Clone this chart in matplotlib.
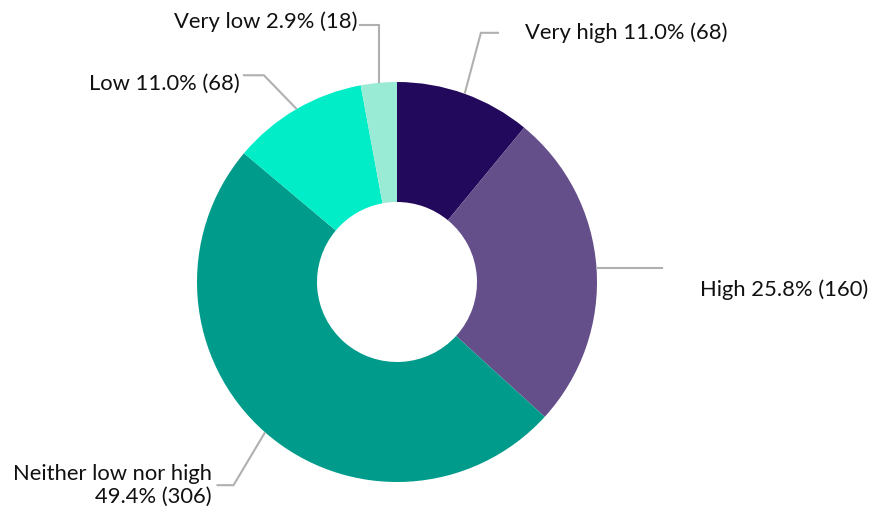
import numpy as np
import matplotlib.pyplot as plt

# Survey responses, clockwise from 12 o'clock
categories = ['Very high', 'High', 'Neither low nor high', 'Low', 'Very low']
counts = [68, 160, 306, 68, 18]
colors = ['#22095b', '#654f8a', '#009b8a', '#00edc7', '#9aebd5']

total = sum(counts)
pcts = [100 * c / total for c in counts]

W, H = 870, 509
fig = plt.figure(figsize=(W / 100, H / 100), dpi=100)
ax = fig.add_axes([0, 0, 1, 1])

cx, cy, R = 397, H - 282, 200
ax.pie(counts, colors=colors, startangle=90, counterclock=False,
       center=(cx, cy), radius=R, frame=True,
       wedgeprops=dict(width=120, linewidth=0))
ax.set_xlim(0, W)
ax.set_ylim(0, H)
ax.axis('off')

# leader line layout: (elbow dx, elbow dy, horizontal run, text dx, text dy, ha)
layout = [
    (16, 60, 17, 27, 0, 'left'),
    (0, 0, 65, 38, -22, 'left'),
    (-31, -52, -16, -6, 0, 'right'),
    (-32, 33, -20, -4, -9, 'right'),
    (0, 57, -19, -2, 3, 'right'),
]

line_color = '#b0b0b0'
font = ['Lato', 'DejaVu Sans']
fs = 15.8
start = 0.0
for cat, n, p, (ex, ey, run, tx, ty, ha) in zip(categories, counts, pcts, layout):
    mid = 90 - 360 * (start + n / 2) / total
    start += n
    a = np.radians(mid)
    x0, y0 = cx + (R + 1) * np.cos(a), cy + (R + 1) * np.sin(a)
    x1, y1 = x0 + ex, y0 + ey
    x2 = x1 + run
    ax.plot([x0, x1, x2], [y0, y1, y1], color=line_color, lw=1.5,
            solid_joinstyle='miter')
    if cat == 'Neither low nor high':
        label = f'{cat}\n{p:.1f}% ({n})'
        ax.text(x2 + tx, y1, label, ha=ha, va='center', fontsize=fs,
                family=font, color='#111111', linespacing=1.2,
                multialignment='right')
    else:
        label = f'{cat} {p:.1f}% ({n})'
        ax.text(x2 + tx, y1 + ty, label, ha=ha, va='center', fontsize=fs,
                family=font, color='#111111')

fig.savefig('out.png', dpi=100)
